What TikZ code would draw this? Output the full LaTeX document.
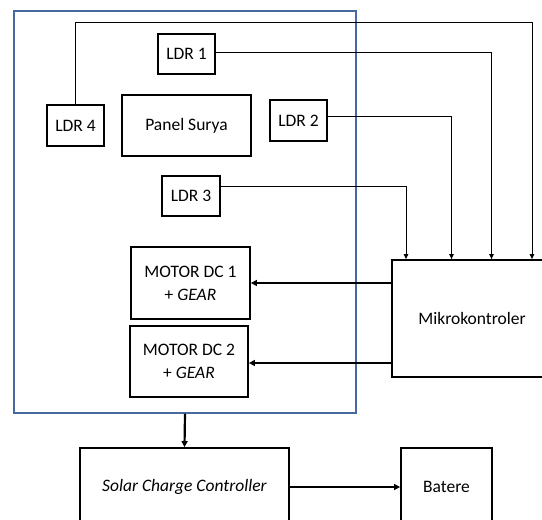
\documentclass[tikz,border=0pt]{standalone}
\usepackage{fontspec}
\setmainfont{Carlito}
\usepackage{tikz}
\usetikzlibrary{arrows.meta, positioning}
\definecolor{framebiru}{RGB}{70, 106, 160}

\begin{document}
\begin{tikzpicture}[
  x=1pt, y=-1pt,
  blok/.style={
    draw=black, line width=1.8pt, fill=white,
    align=center, font=\fontsize{17.5}{23}\selectfont,
    inner sep=0pt
  },
  sig/.style={line width=1pt, -{Triangle[length=5pt, width=4.5pt]}},
  kuat/.style={line width=2.2pt, -{Triangle[length=6pt, width=6pt]}}
]
  \useasboundingbox (0,0) rectangle (542,520);

  % --- Frame ---
  \node[draw=framebiru, line width=1.5pt, minimum width=342pt,
        minimum height=402pt, inner sep=0pt] (frame) at (185,212) {};

  % --- Nodes ---
  \node[blok, minimum width=57pt, minimum height=40pt] (LDR1) at (186.5,54) {LDR 1};
  \node[blok, minimum width=57pt, minimum height=41pt] (LDR4) at (75.5,125.5) {LDR 4};
  \node[blok, minimum width=129pt, minimum height=61pt] (panel) at (186.5,125.5) {Panel Surya};
  \node[blok, minimum width=57pt, minimum height=41pt] (LDR2) at (298.5,120.5) {LDR 2};
  \node[blok, minimum width=58pt, minimum height=40pt] (LDR3) at (191,196) {LDR 3};

  \node[blok, minimum width=119pt, minimum height=72pt] (motor1) at (190.5,283)
    {MOTOR DC 1\\+ \textit{GEAR}};
  \node[blok, minimum width=118pt, minimum height=71pt] (motor2) at (189,361.5)
    {MOTOR DC 2\\+ \textit{GEAR}};

  \node[blok, minimum width=160pt, minimum height=117pt] (mikro) at (472,318.5) {Mikrokontroler};

  \node[blok, minimum width=209pt, minimum height=78pt] (scc) at (184.5,487)
    {\textit{Solar Charge Controller}};
  \node[blok, minimum width=91pt, minimum height=78pt] (batere) at (446.5,487) {Batere};

  % turn points of the sensor lines
  \coordinate (t4) at (532,22);
  \coordinate (t1) at (491.5,0);
  \coordinate (t2) at (451.5,0);
  \coordinate (t3) at (406,0);

  % --- Sensor lines ---
  \draw[sig] (LDR4.north) |- (t4) -- (t4 |- mikro.north);
  \draw[sig] ([yshift=2pt]LDR1.east) -| (t1 |- mikro.north);
  \draw[sig] ([yshift=4pt]LDR2.east) -| (t2 |- mikro.north);
  \draw[sig] ([yshift=10pt]LDR3.east) -| (t3 |- mikro.north);

  % --- Motor drive ---
  \draw[kuat] (mikro.west |- motor1) -- (motor1.east);
  \draw[kuat] ([yshift=-1.5pt]mikro.west |- motor2) -- ([yshift=-1.5pt]motor2.east);

  % --- Power ---
  \draw[kuat] (frame.south) -- (scc.north);
  \draw[kuat] (scc.east) -- (batere.west);

\end{tikzpicture}
\end{document}
